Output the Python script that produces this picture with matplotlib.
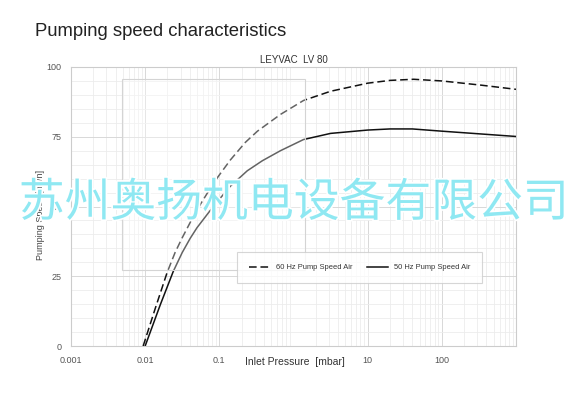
import numpy as np
import matplotlib
matplotlib.use('Agg')
from matplotlib import pyplot as plt
from matplotlib.patches import Rectangle
from matplotlib.ticker import FixedLocator, NullFormatter
import matplotlib.patheffects as pe

# values (pressure in mbar, speed in m3/h)
p60 = [0.0094, 0.01365, 0.0198, 0.0254, 0.0316, 0.0405, 0.0553, 0.0755, 0.0969,
       0.141, 0.2245, 0.3265, 0.667, 1.365, 3.16, 10, 20, 41.7, 100, 337, 1000]
s60 = [0, 13.4, 26.4, 33.6, 38.8, 44.3, 50.7, 56.5, 60.8,
       66.7, 73.0, 77.0, 83.0, 88.0, 91.3, 94.2, 95.2, 95.6, 95.0, 93.5, 92.0]
p50 = [0.0100, 0.016, 0.0239, 0.0316, 0.0405, 0.050, 0.0755, 0.103, 0.141,
       0.238, 0.38, 0.667, 1.365, 3.16, 10, 20, 40, 100, 337, 1000]
s50 = [0, 14.8, 26.7, 33.5, 38.6, 42.4, 48.6, 53.0, 57.3,
       62.8, 66.4, 70.0, 74.0, 76.2, 77.4, 77.8, 77.8, 77.0, 76.0, 75.1]
xticks = [0.001, 0.01, 0.1, 10, 100]
xticklabels = ['0.001', '0.01', '0.1', '10', '100']
yticks = [0, 25, 50, 75, 100]

plt.rcParams['font.family'] = ['Liberation Sans', 'DejaVu Sans']

fig = plt.figure(figsize=(5.88, 3.99), dpi=100)
ax = fig.add_axes([71/588, 1-346/399, 445/588, 279/399])

l1, = ax.plot(p60, s60, color='#111111', lw=1.1, ls=(0, (5, 2.5)), zorder=3)
l2, = ax.plot(p50, s50, color='#111111', lw=1.1, zorder=3)

ax.set_xscale('log')
ax.set_xlim(0.001, 1000)
ax.set_ylim(0, 100)
ax.set_xticks(xticks)
ax.set_xticklabels(xticklabels)
ax.xaxis.set_minor_locator(FixedLocator(
    [m * 10.0**e for e in range(-3, 3) for m in range(2, 10)]))
ax.xaxis.set_minor_formatter(NullFormatter())
ax.set_yticks(yticks)
ax.yaxis.set_minor_locator(FixedLocator(np.arange(0, 101, 5)))
ax.tick_params(which='both', length=0, labelsize=6.5, labelcolor='#555555', pad=7)
ax.grid(which='major', color='#d8d8d8', lw=0.7)
ax.grid(which='minor', color='#ececec', lw=0.6)
ax.set_axisbelow(True)
for s in ax.spines.values():
    s.set_color('#cccccc')

# faded overlay box seen in the picture
ax.add_patch(Rectangle((0.0049, 27.4), 1.41 - 0.0049, 95.7 - 27.4,
                       facecolor='white', alpha=0.35, edgecolor='none', zorder=4))
ax.add_patch(Rectangle((0.0049, 27.4), 1.41 - 0.0049, 95.7 - 27.4,
                       facecolor='none', edgecolor='#d4d4d4', lw=0.8, zorder=4))

ax.set_title('LEYVAC  LV 80', fontsize=7, color='#333333', pad=3)
ax.set_ylabel('Pumping Speed [m³/h]', fontsize=6.5, color='#444444')
ax.yaxis.set_label_coords(-0.058, 0.47)
ax.text((245 - 71) / 445, -0.057, 'Inlet Pressure  [mbar]', transform=ax.transAxes,
        fontsize=7.5, color='#333333', ha='left', va='center')

leg = ax.legend([l1, l2], ['60 Hz Pump Speed Air', '50 Hz Pump Speed Air'],
                ncol=2, loc='upper left', bbox_to_anchor=(0.373, 0.337),
                borderaxespad=0, fontsize=5.4, frameon=True, fancybox=False,
                handlelength=2.8, columnspacing=1.9, borderpad=1.6,
                handletextpad=0.8)
leg.get_frame().set_edgecolor('#cccccc')
leg.get_frame().set_linewidth(0.8)
for t in leg.get_texts():
    t.set_color('#333333')

fig.text(35/588, 1-31/399, 'Pumping speed characteristics', fontsize=13.3,
         color='#222222', ha='left', va='center')

fig.text(0.5, 1-203/399, '苏州奥扬机电设备有限公司', fontsize=33,
         color='#8fe8f2', ha='center', va='center',
         family=['Noto Sans CJK SC', 'DejaVu Sans'],
         path_effects=[pe.withStroke(linewidth=2.5, foreground='white')], zorder=10)

fig.savefig('out.png', dpi=100)
